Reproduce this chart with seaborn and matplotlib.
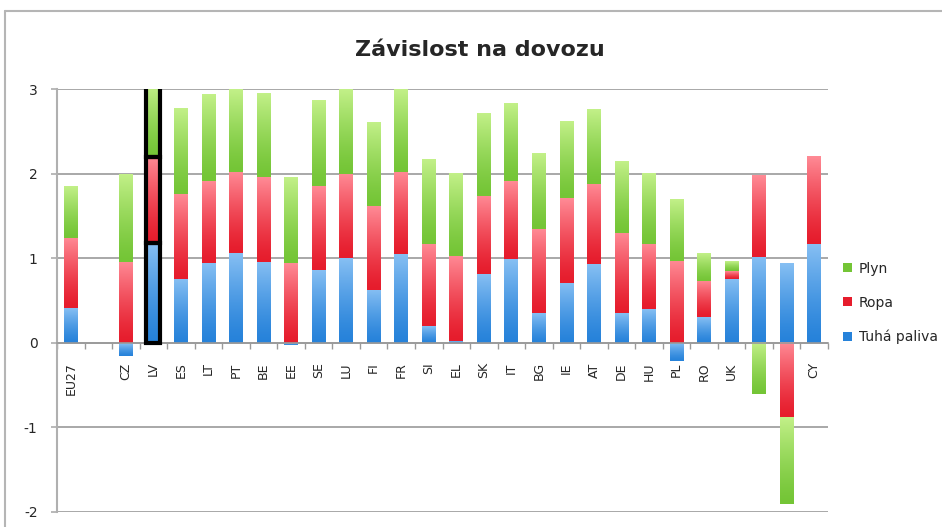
import numpy as np
import pandas as pd
import seaborn as sns
import matplotlib.pyplot as plt
from matplotlib.colors import to_rgb
from matplotlib.lines import Line2D
from matplotlib.patches import Patch

# Data
countries = ['EU27', ' ', 'CZ', 'LV', 'ES', 'LT', 'PT', 'BE', 'EE', 'SE', 'LU', 'FI', 'FR', 'SI',
             'EL', 'SK', 'IT', 'BG', 'IE', 'AT', 'DE', 'HU', 'PL', 'RO', 'UK', 'NL', 'DK', 'CY']
tuha_paliva = [0.41, 0, -0.15, 1.18, 0.76, 0.94, 1.06, 0.96, -0.02, 0.86, 1.00, 0.63, 1.05, 0.20,
               0.02, 0.81, 0.99, 0.35, 0.71, 0.93, 0.35, 0.40, -0.22, 0.30, 0.76, 1.02, 0.94, 1.17]
ropa = [0.83, 0, 0.96, 1.02, 1.00, 0.97, 0.96, 1.00, 0.94, 0.99, 1.00, 0.99, 0.97, 0.97,
        1.01, 0.93, 0.92, 1.00, 1.00, 0.95, 0.95, 0.77, 0.97, 0.43, 0.09, 0.96, -0.88, 1.04]
plyn = [0.61, 0, 1.04, 0.85, 1.01, 1.02, 0.98, 0.99, 1.01, 1.01, 1.00, 0.99, 0.98, 1.00,
        0.98, 0.97, 0.92, 0.89, 0.90, 0.88, 0.85, 0.83, 0.73, 0.33, 0.11, -0.61, -1.02, 0.00]

series = {'Tuhá paliva': tuha_paliva, 'Ropa': ropa, 'Plyn': plyn}
# (light top, dark bottom) gradient colours
colors = {'Tuhá paliva': ('#86bff3', '#2682da'),
          'Ropa': ('#ff8a95', '#e61c2c'),
          'Plyn': ('#c2f088', '#74c536')}

sns.set_theme(style="white")
plt.rcParams['font.family'] = ['DejaVu Sans']
plt.rcParams['axes.unicode_minus'] = False

fig = plt.figure(figsize=(9.42, 5.27), dpi=100)
ax = fig.add_axes([0.0605, 0.0285, 0.8185, 0.8025])

# stacked bars, positives and negatives stacked separately
pos = np.zeros(len(countries))
neg = np.zeros(len(countries))
for name, vals in series.items():
    vals = np.array(vals, dtype=float)
    bottom = np.where(vals >= 0, pos, neg)
    df = pd.DataFrame({'country': countries, 'value': vals})
    sns.barplot(data=df, x='country', y='value', order=countries, color=colors[name][1],
                width=0.5, bottom=bottom, ax=ax, linewidth=0, zorder=2)
    pos = pos + np.where(vals >= 0, vals, 0)
    neg = neg + np.where(vals < 0, vals, 0)

# gradient fill for each bar segment
names = list(series.keys())
n = len(countries)
grad = np.linspace(1, 0, 64).reshape(-1, 1)
for i, p in enumerate(list(ax.patches)):
    name = names[i // n]
    x0, w = p.get_x(), p.get_width()
    y0, h = p.get_y(), p.get_height()
    if abs(h) < 1e-9:
        continue
    lo, hi = min(y0, y0 + h), max(y0, y0 + h)
    c1 = np.array(to_rgb(colors[name][0]))
    c2 = np.array(to_rgb(colors[name][1]))
    img = c2 + (c1 - c2) * grad[:, :, None] ** 1.3
    ax.imshow(img, extent=[x0, x0 + w, lo, hi], aspect='auto', zorder=2,
              interpolation='bilinear', origin='upper')
    p.set_facecolor('none')
    if countries[i % n] == 'LV':
        p.set_edgecolor('black')
        p.set_linewidth(3)
        p.set_zorder(3)

ax.set_xlim(-0.5, n - 0.5)
ax.set_ylim(-2, 3)

# grid and axes styling
ax.set_yticks([-2, -1, 0, 1, 2, 3])
ax.yaxis.grid(True, color='#9a9a9a', linewidth=1.2, zorder=0)
ax.set_axisbelow(True)
for s in ['top', 'right']:
    ax.spines[s].set_visible(False)
ax.spines['left'].set_color('#b0b0b0')
ax.spines['left'].set_linewidth(1.5)
ax.spines['bottom'].set_position(('data', 0))
ax.spines['bottom'].set_color('#9a9a9a')
ax.spines['bottom'].set_linewidth(1.2)
ax.tick_params(axis='y', left=True, length=4, color='#b0b0b0', labelsize=10, pad=10)
ax.set_xticks(np.arange(n))
ax.set_xticklabels(countries, rotation=90, fontsize=9, va='top')
ax.set_xticks(np.arange(n + 1) - 0.5, minor=True)
ax.tick_params(axis='x', which='major', length=0, pad=14)
ax.tick_params(axis='x', which='minor', bottom=True, length=4, color='#9a9a9a', direction='out')
ax.set_xlabel('')
ax.set_ylabel('')

# legend
labels = ['Plyn', 'Ropa', 'Tuhá paliva']
handles = [Patch(facecolor=colors[k][1], edgecolor='none') for k in labels]
fig.legend(handles, labels, loc='center left',
           bbox_to_anchor=(0.882, 0.425), frameon=False, fontsize=10,
           handlelength=0.6, handleheight=0.6, handletextpad=0.5, labelspacing=1.45)

fig.text(480 / 942, 1 - 50 / 527, 'Závislost na dovozu', ha='center', va='center',
         fontsize=16, fontweight='bold')

# outer chart frame (top and left visible)
fig.add_artist(Line2D([5 / 942, 5 / 942], [0, 1 - 11 / 527], transform=fig.transFigure,
                      color='#b5b5b5', linewidth=1.5))
fig.add_artist(Line2D([5 / 942, 1.02], [1 - 11 / 527, 1 - 11 / 527], transform=fig.transFigure,
                      color='#b5b5b5', linewidth=1.5))

plt.savefig('out.png', dpi=100)
